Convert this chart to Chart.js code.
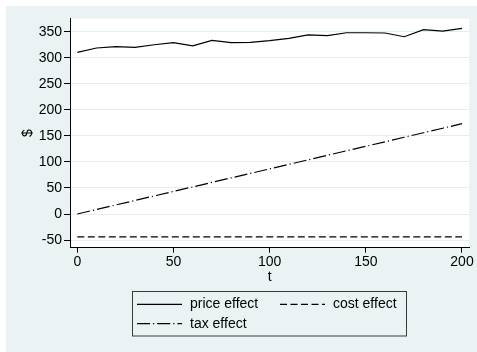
<!DOCTYPE html>
<html>
<head>
<meta charset="utf-8">
<title>Price, cost and tax effects over t</title>
<script src="https://cdn.jsdelivr.net/npm/chart.js@4/dist/chart.umd.min.js"></script>
<style>
  html, body { margin: 0; padding: 0; background: #FFFFFF; }
  #wrap { width: 477px; height: 352px; position: relative; }
</style>
</head>
<body>
<div id="wrap"><canvas id="c" width="477" height="352"></canvas></div>
<script>
// ---- data ----
const periods     = [0, 10, 20, 30, 40, 50, 60, 70, 80, 90, 100, 110, 120, 130, 140, 150, 160, 170, 180, 190, 200];
const priceEffect = [310.5, 318.7, 321.2, 320, 325, 329, 323, 333.5, 329, 329.7, 332.8, 337.4, 344, 342.4, 348, 348, 347.5, 340.4, 354, 351, 356.6];
const costEffect  = [-44, -44, -44, -44, -44, -44, -44, -44, -44, -44, -44, -44, -44, -44, -44, -44, -44, -44, -44, -44, -44];
const taxEffect   = [0, 8.7, 17.3, 26, 34.7, 43.4, 52, 60.7, 69.4, 78, 86.7, 95.4, 104, 112.7, 121.4, 130, 138.7, 147.4, 156, 164.7, 173.4];
const seriesNames = ['price effect', 'cost effect', 'tax effect'];
const xTickValues = [0, 50, 100, 150, 200];
const yTickValues = [-50, 0, 50, 100, 150, 200, 250, 300, 350];

// ---- style ----
const FONT = "'Liberation Sans', Arial, Helvetica, sans-serif";
const PAGE_BG = '#EAF2F3';
const GRID = '#E4EEF0';
const INK = '#000000';

const toPoints = (ys) => periods.map((t, i) => ({ x: t, y: ys[i] }));

// Graph region (inset from a thin white frame) plus the white plot region
const panelBackground = {
  id: 'panelBackground',
  beforeDraw(chart) {
    const { ctx, chartArea: a, width, height } = chart;
    ctx.save();
    ctx.fillStyle = '#FFFFFF';
    ctx.fillRect(0, 0, width, height);
    ctx.fillStyle = PAGE_BG;
    ctx.fillRect(6, 6, width - 6, height - 6);
    ctx.fillStyle = '#FFFFFF';
    ctx.fillRect(a.left, a.top, a.right - a.left, a.bottom - a.top);
    ctx.restore();
  }
};

// Boxed two-column key below the x axis
const boxedKey = {
  id: 'boxedKey',
  afterDraw(chart) {
    const { ctx } = chart;
    const box = { x: 132.5, y: 291.5, w: 274, h: 44.5 };
    const sampleLen = 45;
    const rows = [304.3, 323.7];
    const cols = [137, 280];
    const slots = [[0, 0], [0, 1], [1, 0]];
    ctx.save();
    ctx.strokeStyle = '#3a3a3a';
    ctx.lineWidth = 1;
    ctx.strokeRect(box.x, box.y, box.w, box.h);
    chart.data.datasets.forEach((ds, i) => {
      const [r, c] = slots[i];
      const x0 = cols[c], y = rows[r];
      ctx.save();
      ctx.strokeStyle = ds.borderColor;
      ctx.lineWidth = ds.borderWidth;
      ctx.setLineDash(ds.borderDash || []);
      ctx.beginPath();
      ctx.moveTo(x0, y);
      ctx.lineTo(x0 + sampleLen, y);
      ctx.stroke();
      ctx.restore();
      ctx.fillStyle = INK;
      ctx.font = '14px ' + FONT;
      ctx.textBaseline = 'middle';
      ctx.textAlign = 'left';
      ctx.fillText(ds.label, x0 + sampleLen + 8, y);
    });
    ctx.restore();
  }
};

new Chart(document.getElementById('c'), {
  type: 'line',
  data: {
    datasets: [
      { label: seriesNames[0], data: toPoints(priceEffect), borderColor: INK, borderWidth: 1.2, borderDash: [] },
      { label: seriesNames[1], data: toPoints(costEffect), borderColor: INK, borderWidth: 1.2, borderDash: [7, 3.5] },
      { label: seriesNames[2], data: toPoints(taxEffect), borderColor: INK, borderWidth: 1.2, borderDash: [13, 3, 1.2, 3] }
    ]
  },
  options: {
    responsive: false,
    animation: false,
    devicePixelRatio: 1,
    events: [],
    elements: {
      point: { radius: 0 },
      line: { tension: 0, fill: false }
    },
    layout: { padding: { left: 0, top: 18.7, right: 7.7, bottom: 66.8 } },
    plugins: {
      legend: { display: false },
      tooltip: { enabled: false }
    },
    scales: {
      x: {
        type: 'linear',
        min: -3.8,
        max: 203.8,
        afterBuildTicks: (s) => { s.ticks = xTickValues.map(v => ({ value: v })); },
        afterFit: (s) => { s.height = 37.5; },
        grid: { drawOnChartArea: false, drawTicks: true, tickLength: 5, tickColor: INK, tickWidth: 1 },
        border: { display: true, color: INK, width: 1 },
        ticks: { color: INK, font: { family: FONT, size: 14 }, padding: 1, maxRotation: 0, autoSkip: false },
        title: { display: true, text: 't', color: INK, font: { family: FONT, size: 14 }, padding: { top: 0, bottom: 0 } }
      },
      y: {
        type: 'linear',
        min: -64.7,
        max: 375,
        afterBuildTicks: (s) => { s.ticks = yTickValues.map(v => ({ value: v })); },
        afterFit: (s) => { s.width = 70; },
        grid: { color: GRID, lineWidth: 1, drawTicks: true, tickLength: 6, tickColor: INK, tickWidth: 1 },
        border: { display: true, color: INK, width: 1 },
        ticks: { color: INK, font: { family: FONT, size: 14 }, padding: 2, autoSkip: false },
        title: { display: true, text: '$', color: INK, font: { family: FONT, size: 14 }, padding: { top: 20, bottom: 0 } }
      }
    }
  },
  plugins: [panelBackground, boxedKey]
});
</script>
</body>
</html>
